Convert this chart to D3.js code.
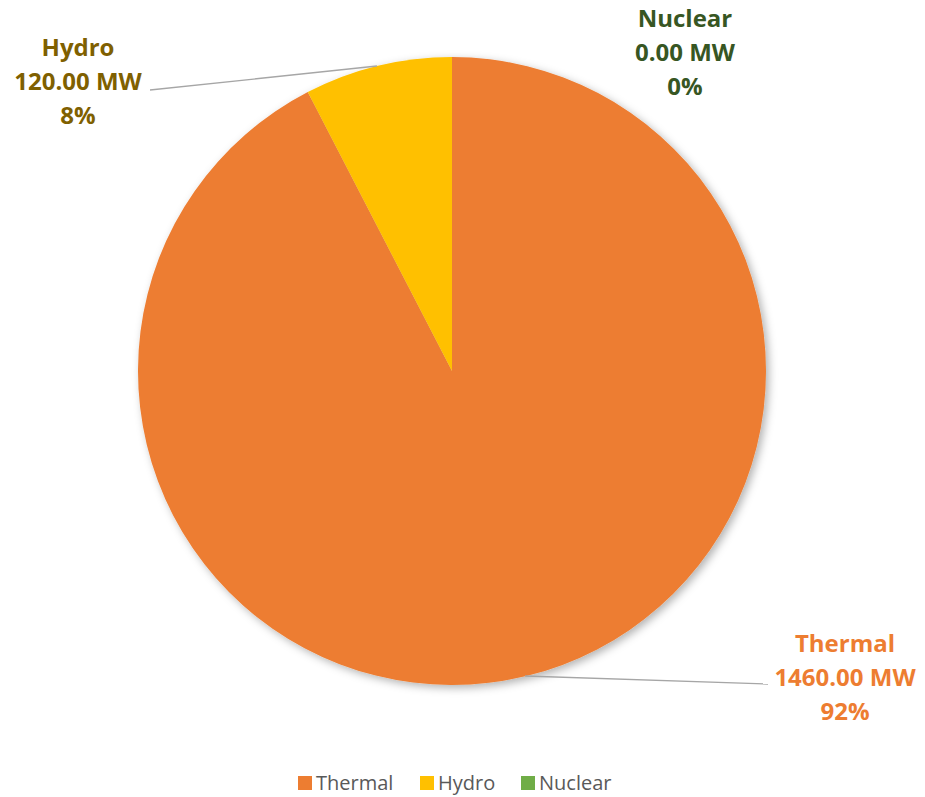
<!DOCTYPE html>
<html>
<head>
<meta charset="utf-8">
<script src="https://cdn.jsdelivr.net/npm/d3@7"></script>
<style>
  body { margin: 0; background: #fff; }
  text { font-family: "Open Sans", "Noto Sans", sans-serif; }
</style>
</head>
<body>
<script>

let width = 925;
let height = 797;

let categories = ["Thermal", "Hydro", "Nuclear"];
let values = [1460, 120, 0];
let colors = ["#ED7D31", "#FFC000", "#70AD47"];
let labelColors = ["#ED7D31", "#7F6000", "#375623"];

let center = { x: 452, y: 371 };
let radius = 314;

let svg = d3.select("body")
	.append("svg")
		.attr("width", width)
		.attr("height", height);

// soft shadow under the pie
let defs = svg.append("defs");
defs.append("filter")
	.attr("id", "shadow")
	.attr("x", "-10%").attr("y", "-10%")
	.attr("width", "120%").attr("height", "120%")
	.append("feDropShadow")
		.attr("dx", 3)
		.attr("dy", 3)
		.attr("stdDeviation", 4)
		.attr("flood-color", "#000")
		.attr("flood-opacity", 0.3);

let pie = d3.pie().sort(null).value(d => d);
let arcs = pie(values);
let arc = d3.arc().innerRadius(0).outerRadius(radius);

let g = svg.append("g")
	.attr("transform", "translate(" + center.x + "," + center.y + ")");

g.append("g")
	.attr("filter", "url(#shadow)")
	.selectAll("path")
	.data(arcs)
	.enter()
	.append("path")
		.attr("d", arc)
		.style("fill", (d, i) => colors[i]);

let total = d3.sum(values);

// label positions (relative to pie center) and leader lines
let labelPos = [
	{ x: 393, y: 281, line: [[73, 305], [316, 313]] },
	{ x: -374, y: -315, line: [[-75, -305], [-302, -281]] },
	{ x: 233, y: -344, line: null }
];

let labels = g.append("g");

arcs.forEach((a, i) => {
	let p = labelPos[i];
	if (p.line) {
		labels.append("path")
			.attr("d", d3.line()(p.line))
			.style("fill", "none")
			.style("stroke", "#A6A6A6")
			.style("stroke-width", 1.3);
	}
	let t = labels.append("text")
		.attr("x", p.x)
		.attr("y", p.y)
		.attr("text-anchor", "middle")
		.style("font-size", "24px")
		.style("font-weight", "bold")
		.style("fill", labelColors[i]);
	let lines = [
		categories[i],
		d3.format(".2f")(values[i]) + " MW",
		Math.round(values[i] / total * 100) + "%"
	];
	lines.forEach((s, j) => {
		t.append("tspan")
			.attr("x", p.x)
			.attr("dy", j === 0 ? 0 : 34)
			.text(s);
	});
});

// legend
let legendX = [298, 420, 521];
let legend = svg.append("g");
categories.forEach((c, i) => {
	legend.append("rect")
		.attr("x", legendX[i])
		.attr("y", 776)
		.attr("width", 14)
		.attr("height", 14)
		.style("fill", colors[i]);
	legend.append("text")
		.attr("x", legendX[i] + 18)
		.attr("y", 790)
		.style("font-size", "20px")
		.style("fill", "#595959")
		.text(c);
});

</script>
</body>
</html>
